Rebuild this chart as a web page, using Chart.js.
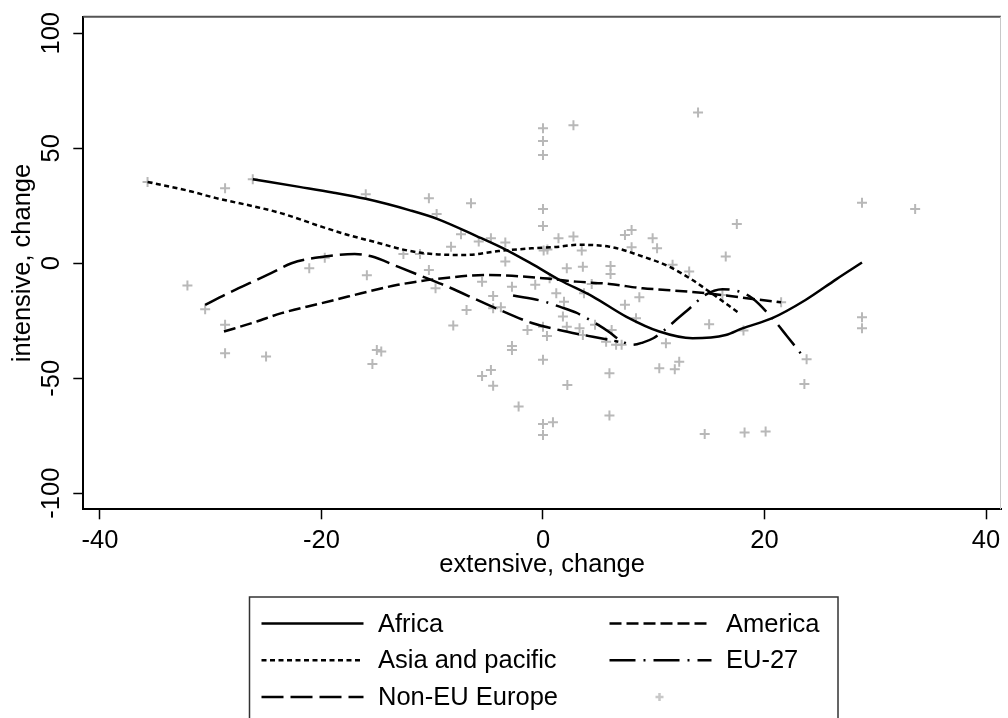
<!DOCTYPE html>
<html>
<head>
<meta charset="utf-8">
<script src="https://cdn.jsdelivr.net/npm/chart.js@4/dist/chart.umd.min.js"></script>
<style>
  html, body { margin: 0; padding: 0; background: #fff; }
</style>
</head>
<body>
<canvas id="chart" width="1008" height="718"></canvas>
<script>
// smoothed curves, one pair of arrays per region
const africaX = [-26.2, -22, -19, -16, -12, -9.5, -6, -3.2, -1, 1.5, 4.5, 7.5, 10.5, 13.5, 16.5, 18, 20.7, 23.7, 26.5, 28.8];
const africaY = [36.5, 33.2, 30.8, 28, 23, 19.2, 11.8, 5.5, -0.3, -7.3, -14.5, -23.2, -29.7, -32.6, -31.2, -28.3, -23.9, -16, -6.9, 0.3];

const americaX = [-28.8, -26, -23.6, -20, -17.6, -13.1, -8.6, -5, 0, 3, 6, 9, 11.1, 15, 19.2, 21.5];
const americaY = [-29.7, -25.6, -21.7, -17.4, -14.5, -9.4, -6.3, -5.1, -6.5, -8, -9, -10.9, -11.6, -13.2, -15.7, -17];

const asiaX = [-35.7, -32, -29.5, -26, -23.6, -20, -17.6, -15, -12.5, -10, -7, -4, -1, 1.5, 3, 6, 9, 11.4, 13.5, 15, 17.7];
const asiaY = [35.3, 31.5, 28.3, 24.6, 21.7, 15.9, 12.3, 9, 5.8, 4, 3.6, 5.3, 6.5, 7.2, 8, 7.2, 2.9, -1.5, -7.3, -12.3, -21.7];

const euX = [-2.7, 0, 1.5, 3, 4.5, 6, 6.9, 8.1, 9, 10, 10.8, 12, 13.5, 14.5, 16.2, 17.7, 18.9, 20.7, 22, 23.5];
const euY = [-14, -16.5, -18.9, -21.5, -25.4, -30, -33.3, -35.5, -34.5, -32.5, -29.7, -24.7, -18.5, -14.2, -11.3, -12.3, -15.2, -23.9, -31.5, -40.6];

const nonEuX = [-30.5, -28.5, -26.5, -24.5, -22.7, -19.7, -17, -15.5, -13.1, -10.5, -8.6, -5, -1, 2.2, 4.5, 6.8];
const nonEuY = [-18.1, -13.2, -8.7, -4.2, 0, 2.9, 4, 3, -1.5, -6.5, -10.2, -18, -26, -29.8, -32, -34.1];

// observations (gray crosses)
const obsX = [-35.7, -28.7, -26.2, -21.1, -19.7, -32.1, -30.5, -28.7, -28.7, -25.0,
  -16.0, -10.3, -9.6, -12.6, -11.1, -10.3, -9.7, -15.9, -15.0, -14.6,
  -15.4, -6.5, 0, 0, 0, 2.75, 0, 0, -7.4, -8.3,
  -5.8, -4.7, -3.4, -3.4, 1.4, 2.75, 0.06, 0.4, 3.5, 2.15,
  3.6, 6.1, 6.1, 7.4, 8.0, 8.0, 9.9, 10.3, 14.0, 28.8,
  33.6, 17.5, 16.5, 11.7, 13.2, 16.2, 21.5, 15.0, 18.1, 11.1,
  10.5, 11.9, 12.3, 28.8, 28.8, 23.8, 23.6, 14.6, 18.2, 20.1,
  -5.5, -2.8, -0.7, 0.6, 4.4, 1.2, 1.9, 3.7, -4.5, -4.5,
  -3.8, -6.9, -8.1, 7.4, 8.7, 8.4, 1.8, 2.15, 3.3, 3.6,
  4.7, 6.2, 5.7, 6.6, 7.1, -1.4, 0, 0.36, -2.8, -2.8,
  0, 6.0, 2.2, 6.0, -5.5, -4.7, -4.5, -2.2, 0, 0.9, 0];
const obsY = [35.3, 32.6, 36.5, -2.2, 2.4, -9.7, -20.0, -26.8, -39.1, -40.6,
  30.0, 28.3, 21.4, 4.0, 4.0, -2.9, -10.9, -5.2, -37.7, -38.4,
  -43.8, 26.1, 58.7, 53.2, 47.1, 60.0, 23.6, 16.2, 12.6, 7.2,
  9.4, 10.9, 9.0, 0.7, 10.9, 11.6, 5.5, 6.0, 5.5, -2.2,
  -1.5, -1.2, -4.7, 12.3, 14.5, 7.0, 10.9, 6.5, 65.5, 26.3,
  23.6, 17.1, 2.9, -0.7, -3.6, -13.8, -17.0, -26.5, -29.3, -34.8,
  -45.7, -46.1, -42.8, -23.5, -28.3, -41.7, -52.5, -74.3, -73.6, -73.2,
  -8.0, -10.2, -9.4, -6.5, -9.0, -13.0, -16.7, -13.0, -14.2, -19.6,
  -19.1, -20.3, -27.1, -18.1, -14.8, -23.9, -23.2, -27.6, -28.3, -31.2,
  -26.8, -29.0, -34.1, -35.5, -35.5, -29.0, -27.6, -31.6, -36.0, -37.7,
  -42.0, -47.8, -52.9, -66.2, -49.0, -46.4, -53.3, -62.3, -69.9, -69.1, -74.7];

const xTicks = [-40, -20, 0, 20, 40];
const yTicks = [-100, -50, 0, 50, 100];

const FONT = 'Liberation Sans';
const FS = 25.5;
Chart.defaults.font.family = FONT;
Chart.defaults.color = '#000';

function pts(xs, ys) {
    return xs.map((x, i) => ({ x: x, y: ys[i] }));
}

function curve(label, xs, ys, dash) {
    return {
        label: label,
        data: pts(xs, ys),
        showLine: true,
        borderColor: '#000',
        borderWidth: 2.5,
        borderDash: dash,
        pointRadius: 0,
        fill: false,
        cubicInterpolationMode: 'monotone'
    };
}

// gray top/right frame plus the boxed two-column legend under the axis
const frameAndLegend = {
    id: 'frameAndLegend',
    beforeDatasetsDraw(chart) {
        const a = chart.chartArea;
        const ctx = chart.ctx;
        ctx.save();
        ctx.strokeStyle = '#555';
        ctx.lineWidth = 2;
        ctx.beginPath();
        ctx.moveTo(a.left, a.top);
        ctx.lineTo(a.right, a.top);
        ctx.stroke();
        ctx.strokeStyle = '#c8c8c8';
        ctx.lineWidth = 1;
        ctx.beginPath();
        ctx.moveTo(a.right - 0.5, a.top);
        ctx.lineTo(a.right - 0.5, a.bottom);
        ctx.stroke();
        ctx.restore();
    },
    afterDraw(chart) {
        const ctx = chart.ctx;
        ctx.save();
        ctx.strokeStyle = '#333';
        ctx.lineWidth = 1.5;
        ctx.strokeRect(249.5, 597, 588.5, 140);

        const sampleX = [261.5, 609.5];
        const textX = [378, 726];
        ctx.font = FS + 'px "' + FONT + '"';
        ctx.textBaseline = 'middle';
        ctx.fillStyle = '#000';
        chart.data.datasets.forEach((ds, i) => {
            const col = i % 2;
            const y = 623.5 + Math.floor(i / 2) * 36.7;
            if (ds.showLine) {
                ctx.strokeStyle = ds.borderColor;
                ctx.lineWidth = ds.borderWidth;
                ctx.setLineDash(ds.borderDash || []);
                ctx.beginPath();
                ctx.moveTo(sampleX[col], y);
                ctx.lineTo(sampleX[col] + 102, y);
                ctx.stroke();
                ctx.setLineDash([]);
            } else {
                ctx.strokeStyle = '#c8c8c8';
                Chart.helpers.drawPoint(ctx, {
                    pointStyle: 'cross', radius: 4, borderWidth: 1.5
                }, sampleX[col] + 50, y);
            }
            if (ds.label) {
                ctx.fillText(ds.label, textX[col], y + 1);
            }
        });
        ctx.restore();
    }
};

new Chart(document.getElementById('chart'), {
    type: 'scatter',
    data: {
        datasets: [
            curve('Africa', africaX, africaY, []),
            curve('America', americaX, americaY, [12, 5]),
            curve('Asia and pacific', asiaX, asiaY, [5, 3.5]),
            curve('EU-27', euX, euY, [26, 8, 2, 8]),
            curve('Non-EU Europe', nonEuX, nonEuY, [22, 7]),
            {
                label: '',
                data: pts(obsX, obsY),
                showLine: false,
                pointStyle: 'cross',
                pointRadius: 5,
                pointBorderWidth: 2,
                pointBorderColor: '#b8b8b8',
                pointBackgroundColor: '#b8b8b8'
            }
        ]
    },
    options: {
        responsive: false,
        animation: false,
        devicePixelRatio: 1,
        layout: { padding: { left: 0, top: 16.7, right: 1.3, bottom: 130 } },
        plugins: {
            legend: { display: false },
            tooltip: { enabled: false }
        },
        scales: {
            x: {
                type: 'linear',
                min: -41.5,
                max: 41.35,
                afterBuildTicks: s => { s.ticks = xTicks.map(v => ({ value: v })); },
                afterFit: s => { s.height = 78.7; },
                ticks: { color: '#000', font: { size: FS }, padding: 6, maxRotation: 0, autoSkip: false },
                grid: { drawOnChartArea: false, drawTicks: true, tickLength: 10, tickColor: '#000', tickWidth: 1.5 },
                border: { display: true, color: '#000', width: 2 },
                title: {
                    display: true,
                    text: 'extensive, change',
                    color: '#000',
                    font: { size: FS },
                    padding: { top: 0, bottom: 8 }
                }
            },
            y: {
                type: 'linear',
                min: -107,
                max: 107.2,
                afterBuildTicks: s => { s.ticks = yTicks.map(v => ({ value: v })); },
                afterFit: s => { s.width = 83.3; },
                ticks: {
                    color: '#000',
                    font: { size: FS },
                    minRotation: 90,
                    maxRotation: 90,
                    crossAlign: 'center',
                    padding: -4,
                    autoSkip: false
                },
                grid: { drawOnChartArea: false, drawTicks: true, tickLength: 10, tickColor: '#000', tickWidth: 1.5 },
                border: { display: true, color: '#000', width: 2 },
                title: {
                    display: true,
                    text: 'intensive, change',
                    color: '#000',
                    font: { size: FS },
                    padding: { top: 8, bottom: 0 }
                }
            }
        }
    },
    plugins: [frameAndLegend]
});
</script>
</body>
</html>
